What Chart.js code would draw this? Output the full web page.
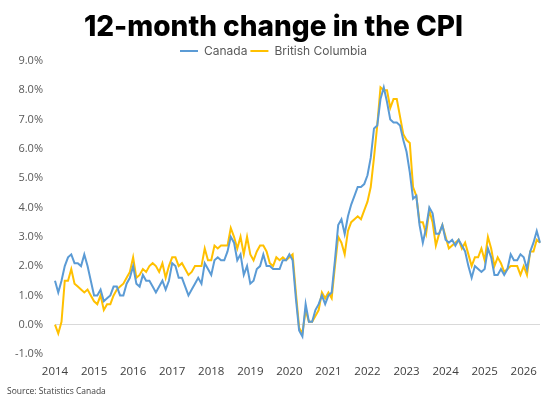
<!DOCTYPE html>
<html>
<head>
<meta charset="utf-8">
<script src="https://cdn.jsdelivr.net/npm/chart.js@4.4.1/dist/chart.umd.min.js"></script>
<style>
  html, body { margin: 0; padding: 0; background: #fff; }
  #wrap { width: 560px; height: 406px; }
</style>
</head>
<body>
<div id="wrap"><canvas id="cpiChart"></canvas></div>
<script>
// monthly, Jan 2014 onward
const years = ["2014", "2015", "2016", "2017", "2018", "2019", "2020", "2021", "2022", "2023", "2024", "2025", "2026"];
const monthsInLastYear = 6;

const canada = [
  1.5, 1.1, 1.5, 2.0, 2.3, 2.4, 2.1, 2.1, 2.0, 2.4, 2.0, 1.5,
  1.0, 1.0, 1.2, 0.8, 0.9, 1.0, 1.3, 1.3, 1.0, 1.0, 1.4, 1.6,
  2.0, 1.4, 1.3, 1.7, 1.5, 1.5, 1.3, 1.1, 1.3, 1.5, 1.2, 1.5,
  2.1, 2.0, 1.6, 1.6, 1.3, 1.0, 1.2, 1.4, 1.6, 1.4, 2.1, 1.9,
  1.7, 2.2, 2.3, 2.2, 2.2, 2.5, 3.0, 2.8, 2.2, 2.4, 1.7, 2.0,
  1.4, 1.5, 1.9, 2.0, 2.4, 2.0, 2.0, 1.9, 1.9, 1.9, 2.2, 2.2,
  2.4, 2.2, 0.9, -0.2, -0.4, 0.7, 0.1, 0.1, 0.5, 0.7, 1.0, 0.7,
  1.0, 1.1, 2.2, 3.4, 3.6, 3.1, 3.7, 4.1, 4.4, 4.7, 4.7, 4.8,
  5.1, 5.7, 6.7, 6.8, 7.7, 8.1, 7.6, 7.0, 6.9, 6.9, 6.8, 6.3,
  5.9, 5.2, 4.3, 4.4, 3.4, 2.8, 3.3, 4.0, 3.8, 3.1, 3.1, 3.4,
  2.9, 2.8, 2.9, 2.7, 2.9, 2.7, 2.5, 2.0, 1.6, 2.0, 1.9, 1.8,
  1.9, 2.6, 2.3, 1.7, 1.7, 1.9, 1.7, 1.9, 2.4, 2.2, 2.2, 2.4,
  2.3, 1.9, 2.5, 2.8, 3.2, 2.8
];

const britishColumbia = [
  0.0, -0.3, 0.1, 1.5, 1.5, 1.9, 1.4, 1.3, 1.2, 1.1, 1.2, 1.0,
  0.8, 0.7, 1.0, 0.5, 0.7, 0.7, 1.0, 1.2, 1.3, 1.4, 1.6, 1.8,
  2.3, 1.6, 1.7, 1.9, 1.8, 2.0, 2.1, 2.0, 1.8, 2.1, 1.6, 2.0,
  2.3, 2.3, 2.0, 2.1, 1.9, 1.7, 1.8, 2.0, 2.0, 2.0, 2.6, 2.2,
  2.2, 2.7, 2.6, 2.7, 2.7, 2.7, 3.3, 3.0, 2.6, 3.0, 2.4, 3.0,
  2.4, 2.2, 2.5, 2.7, 2.7, 2.5, 2.1, 2.0, 2.3, 2.2, 2.3, 2.2,
  2.3, 2.4, 1.1, -0.1, -0.3, 0.5, 0.1, 0.1, 0.3, 0.5, 1.1, 0.9,
  1.1, 0.9, 2.0, 3.0, 2.8, 2.4, 3.2, 3.5, 3.6, 3.7, 3.6, 3.9,
  4.2, 4.7, 5.7, 6.8, 8.1, 8.0, 8.0, 7.4, 7.7, 7.7, 7.1, 6.5,
  6.3, 6.2, 4.7, 4.4, 3.5, 3.5, 3.1, 3.9, 3.5, 2.7, 3.1, 3.4,
  3.0, 2.6, 2.7, 2.8, 2.9, 2.6, 2.8, 2.4, 2.0, 2.3, 2.3, 2.6,
  2.2, 3.0, 2.6, 2.0, 2.3, 2.1, 1.8, 1.9, 2.0, 2.0, 2.0, 1.7,
  2.0, 1.7, 2.5, 2.5, 2.9, 2.8
];

const seriesNames = ["Canada", "British Columbia"];
const sourceText = "Source: Statistics Canada";

// category labels: one per month, year shown on each January
const labels = [];
years.forEach((y, yi) => {
  const n = yi === years.length - 1 ? monthsInLastYear : 12;
  for (let m = 0; m < n; m++) labels.push(m === 0 ? y : "");
});

const tickColor = "#595959";

// legend sits tight on top of the plot, so trim its box a bit
const tightLegend = {
  id: "tightLegend",
  beforeInit(chart) {
    const fit = chart.legend.fit;
    chart.legend.fit = function () {
      fit.call(this);
      this.height -= 6;
    };
  },
};

const ctx = document.getElementById("cpiChart").getContext("2d");
new Chart(ctx, {
  type: "line",
  data: {
    labels: labels,
    datasets: [
      {
        label: seriesNames[0],
        data: canada,
        borderColor: "#5B9BD5",
        backgroundColor: "#5B9BD5",
        borderWidth: 2,
        pointRadius: 0,
        tension: 0,
      },
      {
        label: seriesNames[1],
        data: britishColumbia,
        borderColor: "#FFC000",
        backgroundColor: "#FFC000",
        borderWidth: 2,
        pointRadius: 0,
        tension: 0,
      },
    ],
  },
  plugins: [tightLegend],
  options: {
    responsive: true,
    maintainAspectRatio: false,
    animation: false,
    layout: { padding: { left: 7, right: 20, top: 3, bottom: 9 } },
    plugins: {
      title: {
        display: true,
        text: "12-month change in the CPI",
        color: "#000",
        font: { family: "Inter", size: 28, weight: "800", lineHeight: 1.0 },
        padding: { top: 11, bottom: 0 },
      },
      legend: {
        display: true,
        position: "top",
        labels: {
          usePointStyle: true,
          pointStyle: "line",
          pointStyleWidth: 18,
          color: tickColor,
          font: { family: "Inter", size: 12 },
          padding: 3,
        },
      },
      subtitle: {
        display: true,
        position: "bottom",
        align: "start",
        text: sourceText,
        color: "#404040",
        font: { family: "Open Sans", size: 8.5 },
        padding: { top: 5, bottom: 0 },
      },
      tooltip: { enabled: false },
    },
    scales: {
      x: {
        grid: { display: false },
        border: { display: false },
        ticks: {
          autoSkip: false,
          maxRotation: 0,
          color: "#404040",
          font: { family: "Open Sans", size: 11.5 },
          padding: 3,
          callback: function (value) {
            const l = this.getLabelForValue(value);
            return l === "" ? null : l;
          },
        },
      },
      y: {
        min: -1,
        max: 9,
        border: { display: false },
        grid: {
          drawTicks: false,
          color: (c) => (c.tick && c.tick.value === 0 ? "#d9d9d9" : "rgba(0,0,0,0)"),
        },
        ticks: {
          stepSize: 1,
          color: tickColor,
          font: { family: "Open Sans", size: 11 },
          padding: 12,
          callback: (v) => v.toFixed(1) + "%",
        },
        afterFit: (scale) => { scale.width = 48; },
      },
    },
  },
});
</script>
</body>
</html>
